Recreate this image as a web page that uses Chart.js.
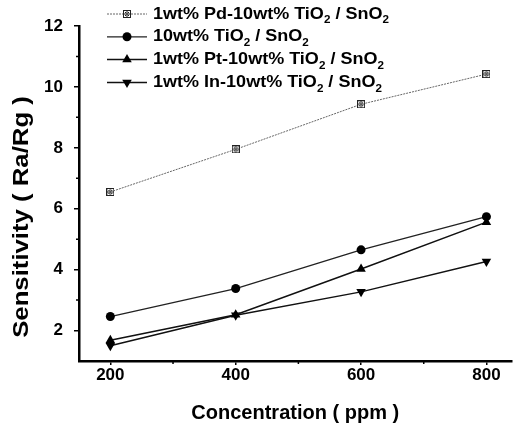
<!DOCTYPE html>
<html><head><meta charset="utf-8">
<script src="https://cdn.jsdelivr.net/npm/chart.js@4"></script>
<style>html,body{margin:0;padding:0;background:#fff}#wrap{width:517px;height:428px}</style>
</head><body><div id="wrap"><canvas id="c" width="517" height="428"></canvas></div>
<script>
const concentrations = [200, 400, 600, 800];
const seriesLabels = ['1wt% Pd-10wt% TiO₂ / SnO₂', '10wt% TiO₂ / SnO₂', '1wt% Pt-10wt% TiO₂ / SnO₂', '1wt% In-10wt% TiO₂ / SnO₂'];
const pdValues = [6.55, 7.95, 9.43, 10.42];
const tioValues = [2.46, 3.38, 4.65, 5.74];
const ptValues = [1.68, 2.52, 4.02, 5.56];
const inValues = [1.50, 2.50, 3.27, 4.27];
const xTickValues = [200, 400, 600, 800];
const xMinorValues = [300, 500, 700];
const yTickValues = [2, 4, 6, 8, 10, 12];
const yMinorValues = [3, 5, 7, 9, 11];
const xTitle = 'Concentration ( ppm )';
const yTitle = 'Sensitivity ( Ra/Rg )';

const FONT = '"Liberation Sans", Arial, sans-serif';

// hatched square marker
function makeSquare() {
  const c = document.createElement('canvas');
  c.width = 8; c.height = 8;
  const g = c.getContext('2d');
  g.fillStyle = '#fff'; g.fillRect(0, 0, 8, 8);
  g.strokeStyle = '#222'; g.lineWidth = 1;
  g.strokeRect(0.5, 0.5, 7, 7);
  g.beginPath();
  g.moveTo(4, 0); g.lineTo(4, 8);
  g.moveTo(0, 4); g.lineTo(8, 4);
  g.stroke();
  g.fillStyle = '#222';
  g.fillRect(2, 2, 1, 1); g.fillRect(5, 5, 1, 1); g.fillRect(5, 2, 1, 1); g.fillRect(2, 5, 1, 1);
  return c;
}
const squareImg = makeSquare();

const pts = arr => concentrations.map((x, i) => ({ x: x, y: arr[i] }));

const datasets = [
  { label: seriesLabels[0], data: pts(pdValues), borderColor: '#666', borderWidth: 1, borderDash: [2, 1],
    pointStyle: squareImg, pointRadius: 4, pointBackgroundColor: '#333', pointBorderColor: '#333' },
  { label: seriesLabels[1], data: pts(tioValues), borderColor: '#222', borderWidth: 1.3,
    pointStyle: 'circle', pointRadius: 4.5, pointBackgroundColor: '#000', pointBorderColor: '#000', pointBorderWidth: 0 },
  { label: seriesLabels[2], data: pts(ptValues), borderColor: '#111', borderWidth: 1.5,
    pointStyle: 'triangle', pointRadius: 5.5, pointBackgroundColor: '#000', pointBorderColor: '#000', pointBorderWidth: 0 },
  { label: seriesLabels[3], data: pts(inValues), borderColor: '#111', borderWidth: 1.5,
    pointStyle: 'triangle', pointRotation: 180, pointRadius: 5.5, pointBackgroundColor: '#000', pointBorderColor: '#000', pointBorderWidth: 0 }
];

function drawRich(ctx, text, x, y, size, stretch) {
  const parts = text.split('₂');
  ctx.save();
  ctx.translate(x, y);
  ctx.scale(stretch, 1);
  ctx.textBaseline = 'middle';
  ctx.textAlign = 'left';
  ctx.fillStyle = '#000';
  let cx = 0;
  parts.forEach((p, i) => {
    ctx.font = 'bold ' + size + 'px ' + FONT;
    ctx.fillText(p, cx, 0);
    cx += ctx.measureText(p).width;
    if (i < parts.length - 1) {
      ctx.font = 'bold ' + Math.round(size * 0.62) + 'px ' + FONT;
      ctx.fillText('2', cx, size * 0.38);
      cx += ctx.measureText('2').width;
    }
  });
  ctx.restore();
}

const extras = {
  id: 'extras',
  afterDraw(chart) {
    const ctx = chart.ctx;
    const xs = chart.scales.x, ys = chart.scales.y;
    ctx.save();
    // minor ticks
    ctx.strokeStyle = '#000'; ctx.lineWidth = 1.5;
    ctx.beginPath();
    xMinorValues.forEach(v => { const px = xs.getPixelForValue(v); ctx.moveTo(px, xs.top); ctx.lineTo(px, xs.top + 3); });
    yMinorValues.forEach(v => { const py = ys.getPixelForValue(v); ctx.moveTo(ys.right, py); ctx.lineTo(ys.right - 3, py); });
    ctx.stroke();
    // y title
    ctx.save();
    ctx.translate(22, 217);
    ctx.rotate(-Math.PI / 2);
    ctx.scale(1.17, 1);
    ctx.font = 'bold 22px ' + FONT;
    ctx.fillStyle = '#000';
    ctx.textAlign = 'center';
    ctx.textBaseline = 'middle';
    ctx.fillText(yTitle, 0, 0);
    ctx.restore();
    // legend
    chart.data.datasets.forEach((ds, i) => {
      const y = 14 + i * 22.8;
      ctx.save();
      ctx.strokeStyle = ds.borderColor;
      ctx.lineWidth = ds.borderWidth;
      ctx.setLineDash(ds.borderDash || []);
      ctx.beginPath(); ctx.moveTo(107, y); ctx.lineTo(147, y); ctx.stroke();
      ctx.restore();
      const el = chart.getDatasetMeta(i).data[0];
      const o = el.options;
      ctx.save();
      ctx.fillStyle = o.backgroundColor; ctx.strokeStyle = o.borderColor; ctx.lineWidth = o.borderWidth;
      Chart.helpers.drawPoint(ctx, { pointStyle: o.pointStyle, rotation: o.rotation, radius: o.radius, borderWidth: o.borderWidth }, 127, y);
      ctx.restore();
      drawRich(ctx, ds.label, 153, y, 17, 1.06);
    });
    ctx.restore();
  }
};

new Chart(document.getElementById('c'), {
  type: 'line',
  data: { datasets: datasets },
  options: {
    responsive: false, animation: false, devicePixelRatio: 1,
    layout: { padding: { top: 26, left: 0, right: 0, bottom: 0 } },
    plugins: { legend: { display: false }, tooltip: { enabled: false } },
    elements: { line: { tension: 0 } },
    scales: {
      x: {
        type: 'linear', min: 150, max: 840,
        afterBuildTicks: s => { s.ticks = xTickValues.map(v => ({ value: v })); },
        afterFit: s => { s.height = 67; },
        grid: { drawOnChartArea: false, drawTicks: true, tickLength: 4, color: '#000', lineWidth: 1.5 },
        border: { display: true, color: '#000', width: 2.5 },
        ticks: { color: '#000', font: { family: FONT, size: 17, weight: 'bold' }, padding: 0, maxRotation: 0 },
        title: { display: true, text: xTitle, color: '#000', font: { family: FONT, size: 20, weight: 'bold' }, padding: { top: 0, bottom: 3 } }
      },
      y: {
        type: 'linear', min: 1, max: 12,
        afterBuildTicks: s => { s.ticks = yTickValues.map(v => ({ value: v })); },
        afterFit: s => { s.width = 79; },
        grid: { drawOnChartArea: false, drawTicks: true, tickLength: 5, color: '#000', lineWidth: 1.5 },
        border: { display: true, color: '#000', width: 2.5 },
        ticks: { color: '#000', font: { family: FONT, size: 17, weight: 'bold' }, padding: 11 }
      }
    }
  },
  plugins: [extras]
});
</script></body></html>
